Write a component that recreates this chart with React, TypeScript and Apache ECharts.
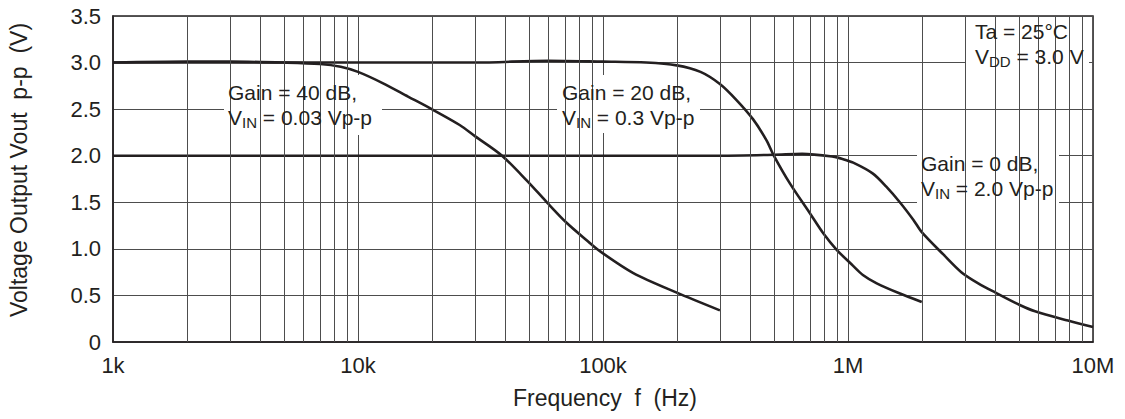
import React, { useEffect, useRef } from "react";
import * as echarts from "echarts";

// Axis labels
const freqTickValues = [1000, 10000, 100000, 1000000, 10000000];
const freqTickLabels = ["1k", "10k", "100k", "1M", "10M"];
const minorGridFreqs = [
  2000, 3000, 4000, 5000, 6000, 7000, 8000, 9000,
  20000, 30000, 40000, 50000, 60000, 70000, 80000, 90000,
  200000, 300000, 400000, 500000, 600000, 700000, 800000, 900000,
  2000000, 3000000, 4000000, 5000000, 6000000, 7000000, 8000000, 9000000,
];

// Gain = 40 dB, VIN = 0.03 Vp-p
const freqGain40 = [1000, 2000, 3000, 5000, 7000, 8500, 10000, 12600, 16000, 20000, 26000, 30000, 38700, 49000, 59000, 71000, 86000, 97700, 133000, 200000, 300000];
const voutGain40 = [3.0, 3.01, 3.01, 3.0, 2.985, 2.955, 2.9, 2.78, 2.635, 2.5, 2.33, 2.21, 2.0, 1.73, 1.5, 1.28, 1.09, 0.97, 0.74, 0.53, 0.34];

// Gain = 20 dB, VIN = 0.3 Vp-p
const freqGain20 = [1000, 10000, 30000, 60000, 100000, 150000, 200000, 250000, 300000, 350000, 410000, 465000, 496000, 580000, 700000, 791000, 899000, 1047000, 1150000, 1310000, 1630000, 2000000];
const voutGain20 = [3.0, 3.0, 3.0, 3.02, 3.01, 3.0, 2.97, 2.9, 2.77, 2.6, 2.39, 2.165, 2.01, 1.7, 1.38, 1.17, 0.99, 0.82, 0.72, 0.63, 0.52, 0.43];

// Gain = 0 dB, VIN = 2.0 Vp-p
const freqGain0 = [1000, 10000, 100000, 300000, 500000, 650000, 870000, 950000, 1050000, 1260000, 1430000, 1640000, 1850000, 2000000, 2450000, 2900000, 3400000, 4000000, 5000000, 5800000, 7900000, 10000000];
const voutGain0 = [2.0, 2.0, 2.0, 2.0, 2.01, 2.02, 1.99, 1.965, 1.925, 1.81, 1.67, 1.49, 1.31, 1.18, 0.94, 0.75, 0.63, 0.53, 0.4, 0.33, 0.23, 0.16];

const FONT = "'Liberation Sans', Arial, Helvetica, sans-serif";
const INK = "#231f20";
const GRID = "#4d4d4d";

const zip = (xs: number[], ys: number[]) => xs.map((x, i) => [x, ys[i]]);

const noteRich = {
  n: { fontSize: 21, fontFamily: FONT, fill: INK, lineHeight: 25 },
  s: { fontSize: 15, fontFamily: FONT, fill: INK, lineHeight: 16, verticalAlign: "bottom" as const },
};

export default function App() {
  const ref = useRef<HTMLDivElement>(null);
  useEffect(() => {
    document.body.style.margin = "0";
    if (!ref.current) return;
    const chart = echarts.init(ref.current, undefined, { renderer: "svg" });
    const curve = (name: string, xs: number[], ys: number[]) => ({
      name,
      type: "line" as const,
      data: zip(xs, ys),
      smooth: 0.3,
      showSymbol: false,
      symbol: "none",
      z: 4,
      lineStyle: { color: INK, width: 2.6 },
    });
    chart.setOption({
      animation: false,
      backgroundColor: "#ffffff",
      textStyle: { fontFamily: FONT },
      grid: {
        left: 113,
        right: 32,
        top: 16,
        bottom: 77,
        show: true,
        borderColor: INK,
        borderWidth: 1.5,
        backgroundColor: "transparent",
      },
      xAxis: {
        type: "log",
        logBase: 10,
        min: freqTickValues[0],
        max: freqTickValues[freqTickValues.length - 1],
        axisLine: { show: true, lineStyle: { color: INK, width: 1.5 } },
        axisTick: { show: false },
        splitLine: { show: true, lineStyle: { color: GRID, width: 1 } },
        axisLabel: {
          color: INK,
          fontSize: 22,
          fontFamily: FONT,
          margin: 12,
          formatter: (v: number) => {
            const i = freqTickValues.findIndex((t) => Math.abs(Math.log10(t) - Math.log10(v)) < 1e-6);
            return i >= 0 ? freqTickLabels[i] : "";
          },
        },
      },
      yAxis: {
        type: "value",
        min: 0,
        max: 3.5,
        interval: 0.5,
        axisLine: { show: true, lineStyle: { color: INK, width: 1.5 } },
        axisTick: { show: false },
        splitLine: { show: true, lineStyle: { color: GRID, width: 1 } },
        axisLabel: {
          color: INK,
          fontSize: 22,
          fontFamily: FONT,
          margin: 12,
          formatter: (v: number) => (v === 0 ? "0" : v.toFixed(1)),
        },
      },
      graphic: [
        { type: "rect", z: 1, shape: { x: 224, y: 75, width: 158, height: 60 }, style: { fill: "#fff" } },
        { type: "rect", z: 1, shape: { x: 557, y: 75, width: 143, height: 58 }, style: { fill: "#fff" } },
        { type: "rect", z: 1, shape: { x: 917, y: 147, width: 142, height: 56 }, style: { fill: "#fff" } },
        { type: "rect", z: 1, shape: { x: 965, y: 22, width: 124, height: 53 }, style: { fill: "#fff" } },
        {
          type: "text", z: 6, x: 228, y: 80,
          style: { text: "{n|Gain = 40 dB,}\n{n|V}{s|IN}{n| = 0.03 Vp-p}", rich: noteRich },
        },
        {
          type: "text", z: 6, x: 562, y: 80,
          style: { text: "{n|Gain = 20 dB,}\n{n|V}{s|IN}{n| = 0.3 Vp-p}", rich: noteRich },
        },
        {
          type: "text", z: 6, x: 921, y: 151,
          style: { text: "{n|Gain = 0 dB,}\n{n|V}{s|IN}{n| = 2.0 Vp-p}", rich: noteRich },
        },
        {
          type: "text", z: 6, x: 975, y: 19,
          style: { text: "{n|Ta = 25°C}\n{n|V}{s|DD}{n| = 3.0 V}", rich: noteRich },
        },
        {
          type: "text", z: 6, x: 19, y: 170, rotation: Math.PI / 2,
          style: {
            text: "Voltage Output Vout  p-p  (V)",
            fontSize: 23, fontFamily: FONT, fill: INK, align: "center", verticalAlign: "middle",
          },
        },
        {
          type: "text", z: 6, x: 605, y: 398,
          style: {
            text: "Frequency  f  (Hz)",
            fontSize: 23, fontFamily: FONT, fill: INK, align: "center", verticalAlign: "middle",
          },
        },
      ],
      series: [
        {
          name: "minor-grid",
          type: "line",
          data: [],
          z: 0,
          silent: true,
          markLine: {
            silent: true,
            symbol: "none",
            label: { show: false },
            lineStyle: { color: GRID, width: 1, type: "solid" },
            data: minorGridFreqs.map((f) => ({ xAxis: f })),
          },
        },
        curve("Gain = 40 dB", freqGain40, voutGain40),
        curve("Gain = 20 dB", freqGain20, voutGain20),
        curve("Gain = 0 dB", freqGain0, voutGain0),
      ],
    });
    return () => chart.dispose();
  }, []);
  return <div ref={ref} style={{ width: 1125, height: 419 }} />;
}
